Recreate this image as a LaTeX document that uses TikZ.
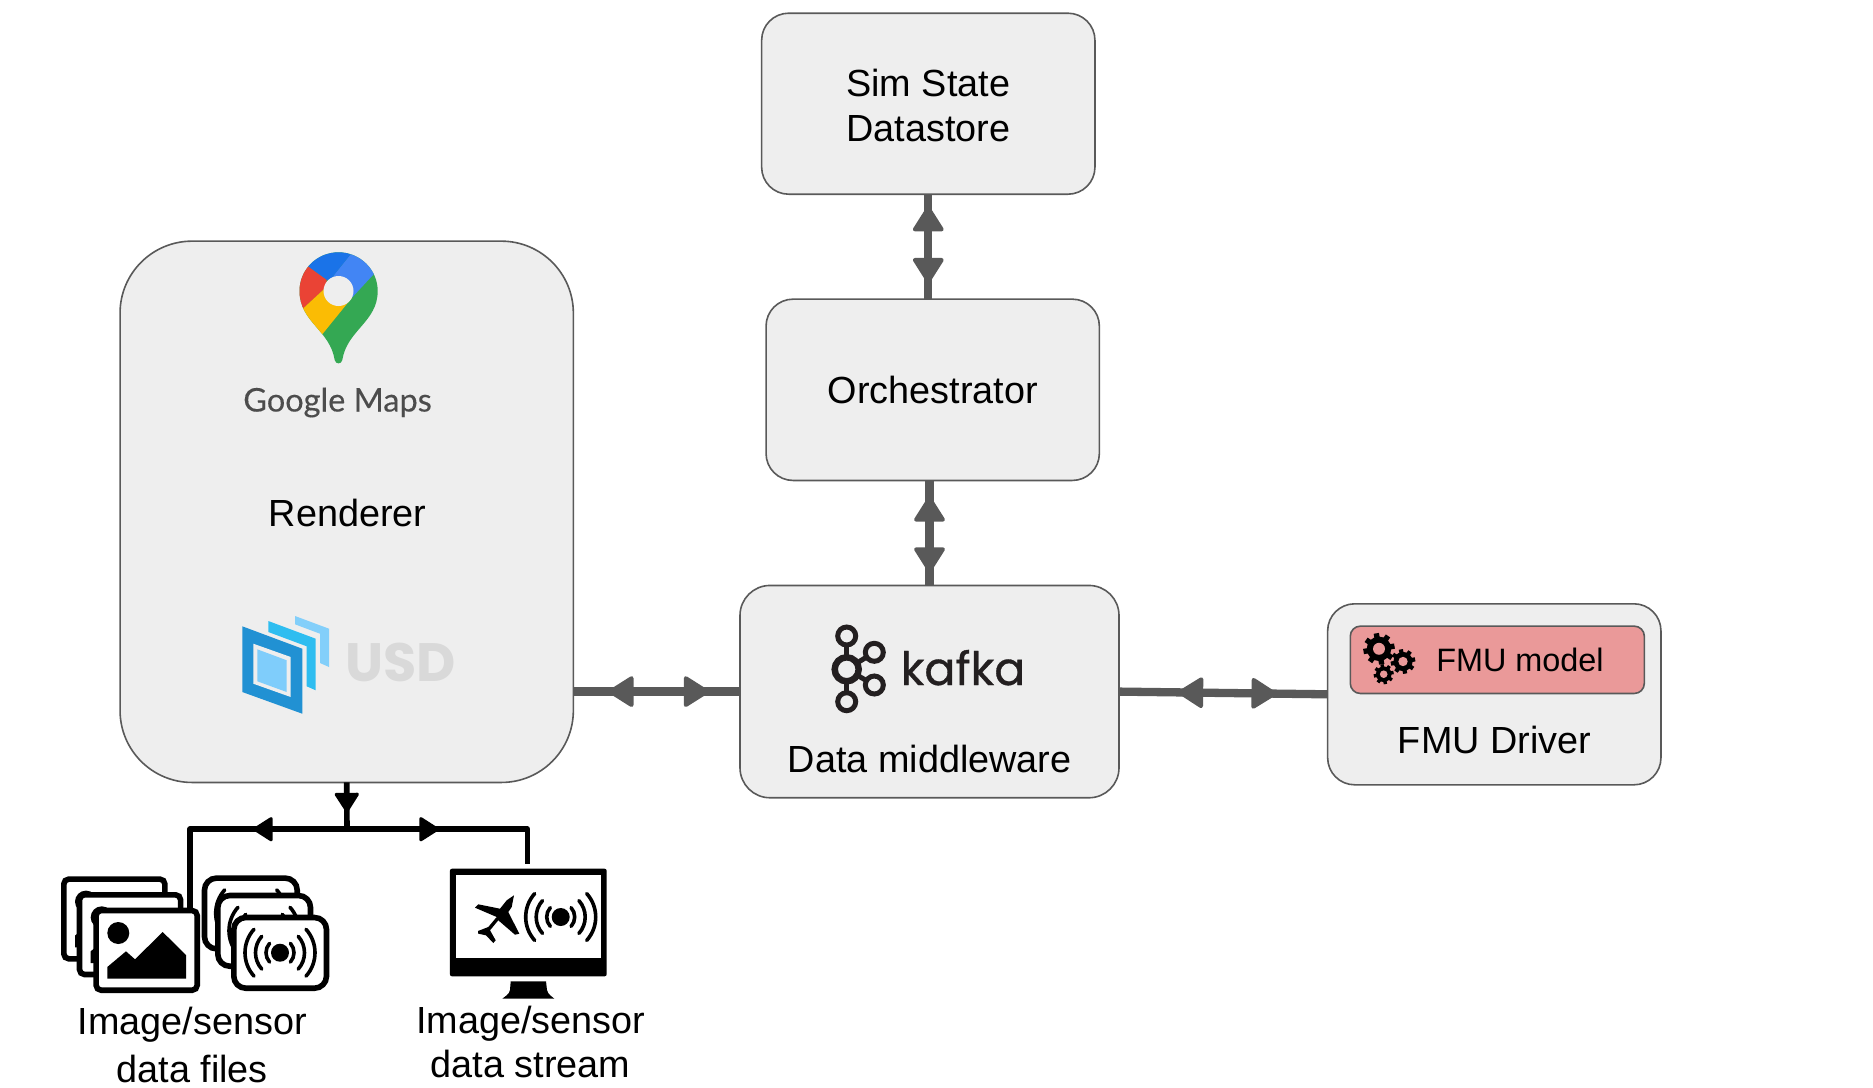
\documentclass[tikz,border=0pt]{standalone}
\usepackage{fontspec}
\setmainfont{Liberation Sans}
\newfontfamily\logofont[FakeBold=0.7]{Poppins}
\newfontfamily\usdfont{Poppins}
\newfontfamily\mapsfont[FakeBold=0.3]{Lato}
\usetikzlibrary{calc}
\usetikzlibrary{arrows.meta,decorations.markings}

\definecolor{boxgray}{HTML}{EEEEEE}
\definecolor{linegray}{HTML}{595959}
\definecolor{modelred}{HTML}{EA9999}
\definecolor{kafkablack}{HTML}{231F20}

\tikzset{
  bigtip/.tip={Triangle[length=27pt,width=33pt,line width=4pt,round]},
  smalltip/.tip={Triangle[length=21pt,width=26pt,line width=3pt,round]},
  box/.style={draw=linegray,fill=boxgray,line width=1.6pt,inner sep=0pt,outer sep=0pt,
    rounded corners=27pt,align=center,font=\fontsize{37.8}{45}\selectfont},
  label/.style={inner sep=0pt,align=center,font=\fontsize{37.8}{45}\selectfont},
  twoway/.style 2 args={draw=linegray,line width=8.3pt,postaction={decorate},
    decoration={markings,
      mark=at position #1 with {\arrowreversed[linegray]{bigtip}},
      mark=at position #2 with {\arrow[linegray]{bigtip}}}},
  feed/.style={draw=black,line width=5.6pt,line join=round,postaction={decorate},
    decoration={markings,mark=at position #1 with {\arrow[black]{smalltip}}}},
  card/.style={draw=black,fill=white,line width=5.6pt},
}

\newcommand\sensorwaves[2]{
  \fill (#1,#2) circle (9);
  \foreach \r in {14,24.5,35}{
    \draw[line width=3.6pt,line cap=round] ([shift={(-42:\r)}]#1,#2) arc[start angle=-42,end angle=42,radius=\r];
    \draw[line width=3.6pt,line cap=round] ([shift={(138:\r)}]#1,#2) arc[start angle=138,end angle=222,radius=\r];
  }
}
\newcommand\gearicon[3]{
  \begin{scope}[shift={(#1,#2)}]
    \fill (0,0) circle ({.78*#3});
    \foreach \a in {0,45,...,315}
      \fill[rotate=\a+10] ({.6*#3},{-.17*#3}) rectangle ({#3},{.17*#3});
    \fill[modelred] (0,0) circle ({.38*#3});
  \end{scope}
}

\begin{document}
\begin{tikzpicture}[x=1pt,y=-1pt]
  \useasboundingbox (0,0) rectangle (1873,1087);
  \node[box,minimum width=333.3,minimum height=181] (sim) at (928.3,103.7) {};
  \node[box,text depth=0pt,minimum width=333.3,minimum height=181.3] (orch) at (932.7,389.8) {Orchestrator};
  \node[box,rounded corners=30pt,minimum width=379,minimum height=212.3] (kafka) at (929.5,691.6) {};
  \node[box,minimum width=333.3,minimum height=181] (fmu) at (1494.3,694.3) {};
  \node[box,rounded corners=10pt,fill=modelred,minimum width=294,minimum height=67.3] (model) at (1497.3,659.8) {};
  \node[box,rounded corners=72pt,minimum width=453.3,minimum height=541.3] (rend) at (346.7,511.8) {};
  \node[label] (simname) at (928.3,105.2) {Sim State\\Datastore};
  \node[label,anchor=base] (rendname) at (347.5,526) {Renderer};
  \node[label,anchor=base] (kafkaname) at (929.7,772.7) {Data middleware};
  \node[label,anchor=base] (fmuname) at (1494.5,753.3) {FMU Driver};
  \node[label,anchor=base,font=\fontsize{32.4}{38}\selectfont] (modelname) at (1520,671.7) {FMU model};
  \node[label,anchor=base,font=\logofont\fontsize{46}{50}\selectfont,text=kafkablack] (kafkalogo) at (963,685) {kafka};
  \node[label,anchor=base,font=\mapsfont\fontsize{32.5}{38}\selectfont,text=black!40!gray] (mapsname) at (337.5,411.5) {Google Maps};
  \node[label,anchor=base,font=\usdfont\bfseries\fontsize{54}{58}\selectfont,text=black!15!white] (usdname) at (400.6,681) {USD};
  \node[label,font=\fontsize{37.8}{47.5}\selectfont] (filesname) at (192.2,1045.2) {Image/sensor\\data files};
  \node[label,font=\fontsize{37.8}{44.5}\selectfont] (streamname) at (530.7,1042) {Image/sensor\\data stream};

  \draw[twoway={12pt}{-16pt}] (sim.south) -- (sim.south |- orch.north);
  \draw[twoway={16pt}{-13pt}] (kafka.north |- orch.south) -- (kafka.north);
  \draw[twoway={35pt}{-31pt}] (rend.east |- kafka.west) -- (kafka.west);
  \draw[twoway={59pt}{-51pt}] (kafka.east) -- (fmu.west);

  % black feeds below the renderer
  \coordinate (fork) at (347,829.2);
  \coordinate (filesend) at (190,908);
  \coordinate (streamend) at (527.3,864.2);
  \draw[feed=30pt] (rend.south) -- (fork);
  \draw[feed=94pt] (fork) -| (filesend);
  \draw[feed=92pt] (fork) -| (streamend);

  % google maps pin
  \begin{scope}
    \clip (299.5,291) .. controls (299.5,269.5) and (317,252.3) .. (338.5,252.3)
      .. controls (360,252.3) and (377.7,269.5) .. (377.7,291)
      .. controls (377.7,322) and (347,330) .. (342.3,360)
      .. controls (341.5,364.5) and (335.5,364.5) .. (334.7,360)
      .. controls (330,330) and (299.5,322) .. cycle;
    \fill[fill={rgb,255:red,52;green,168;blue,83}] (290,245) rectangle (390,370);
    \fill[fill={rgb,255:red,66;green,133;blue,244}] (362,240) -- (330,280) -- (338.5,291) -- (351.7,298) -- (385,262) -- cycle;
    \fill[fill={rgb,255:red,26;green,115;blue,232}] (362,240) -- (330,280) -- (326.7,280) -- (308.3,266.7) -- (295,255) -- (320,235) -- cycle;
    \fill[fill={rgb,255:red,234;green,67;blue,53}] (308.3,266.7) -- (326.7,280) -- (326.7,286.7) -- (303.3,308.3) -- (290,315) -- (290,260) -- cycle;
    \fill[fill={rgb,255:red,251;green,188;blue,4}] (303.3,308.3) -- (326.7,286.7) -- (338.5,291) -- (351.7,298) -- (321.7,335) -- (295,318) -- cycle;
  \end{scope}
  \fill[boxgray] (338.5,291) circle (15);

  % usd layers
  \fill[fill={rgb,255:red,131;green,207;blue,250}] (295,616) -- (329,628.7) -- (329,667) -- (320,663) -- (320,633.7) -- (295,624.3) -- cycle;
  \fill[fill={rgb,255:red,46;green,189;blue,240}] (268.3,621) -- (315.7,638.7) -- (315.7,690.3) -- (306.7,686.3) -- (306.7,646.3) -- (268.3,632) -- cycle;
  \fill[fill={rgb,255:red,33;green,145;blue,211}] (242.3,626.3) -- (302.3,648.7) -- (302.3,713.7) -- (242.3,692) -- cycle;
  \fill[boxgray] (253.3,643.7) -- (290.7,657) -- (290.7,697) -- (253.3,683.7) -- cycle;
  \fill[fill={rgb,255:red,127;green,205;blue,251}] (257.3,649.3) -- (286.7,660.3) -- (286.7,692) -- (257.3,681.3) -- cycle;

  % kafka mark
  \draw[kafkablack,line width=5pt] (846.7,636) -- (846.7,701.7);
  \draw[kafkablack,line width=5pt] (874.3,652.3) -- (846.7,669.3) -- (874.3,685);
  \foreach \x/\y in {846.7/636,846.7/701.7,874.3/652.3,874.3/685}
    \draw[kafkablack,fill=boxgray,line width=5pt] (\x,\y) circle (9);
  \draw[kafkablack,fill=boxgray,line width=6.5pt] (846.7,669.3) circle (12);

  % gears
  \gearicon{1379}{648.8}{15.7}
  \gearicon{1403}{661.5}{12.3}
  \gearicon{1383.7}{674.2}{10}

  % image files
  \foreach \x/\y in {61/876.3,76.7/892,93.3/907.7}{
    \begin{scope}[shift={(\x-93.3,\y-907.7)}]
      \draw[card,rounded corners=5pt] (96.1,910.5) rectangle (197.2,990.2);
      \fill (118.3,933) circle (11);
      \fill (107.3,978.7) -- (107.3,967) -- (126,951.3) -- (135,959.3) -- (162.7,932) -- (186,955) -- (186,978.7) -- cycle;
    \end{scope}
  }
  % sensor files
  \foreach \x/\y in {201.7/875.3,215/892.7,231/914.7}{
    \begin{scope}[shift={(\x-231,\y-914.7)}]
      \draw[card,rounded corners=12pt] (233.8,917.5) rectangle (326.5,988.2);
      \sensorwaves{280}{952.7}
    \end{scope}
  }

  % stream monitor
  \node[fill=black,inner sep=0pt,outer sep=0pt,rounded corners=2pt,minimum width=156.7,minimum height=107.6] (monitor) at (528.3,922.5) {};
  \fill[white] (456,875) rectangle (600.7,957.7);
  \fill (510.7,981.3) -- (546,981.3) -- (547,990) .. controls (548,995) and (552,996) .. (554.3,998.7) -- (502.3,998.7) .. controls (505,996) and (509,995) .. (510,990) -- cycle;
  \fill (514,895.3) -- (511.7,907) -- (508.3,912) -- (519.3,933.7) -- (515,934.7) -- (498.3,920.3) -- (490,930.3) -- (495.7,940.3) -- (493.3,943) -- (486,935.3) -- (478.3,933.7) -- (478,931) -- (488.3,927) -- (496.7,917) -- (475,907.7) -- (478.3,904.3) -- (500,908.7) -- (506.7,900.3) -- cycle;
  \sensorwaves{560.7}{917}
\end{tikzpicture}
\end{document}
